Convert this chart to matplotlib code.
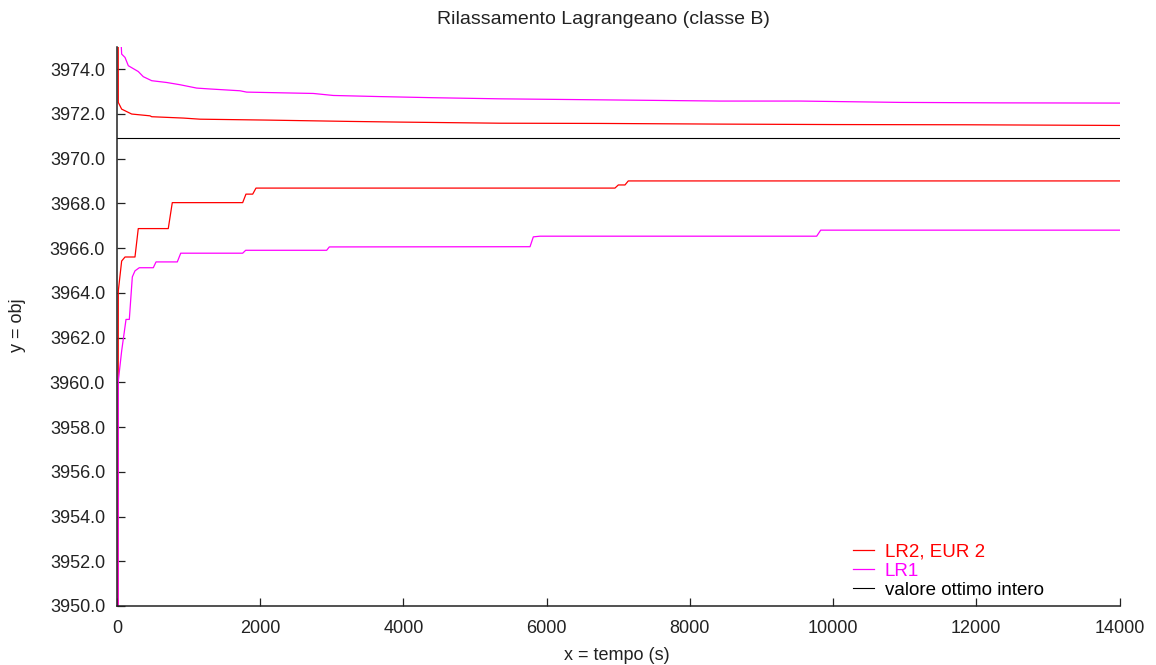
import matplotlib
matplotlib.use("Agg")
import matplotlib.pyplot as plt
from matplotlib.ticker import FormatStrFormatter, MultipleLocator

plt.rcParams['font.family'] = ['Liberation Sans', 'DejaVu Sans']

# LR2, EUR 2: upper bound (decreasing) and lower bound (stepwise increasing)
red_up_t = [10, 18, 65, 205, 461, 485, 926, 1159, 2090, 3254, 3952, 5349,
            6745, 8421, 9999, 11870, 14000]
red_up_v = [3990.0, 3972.51, 3972.21, 3971.99, 3971.91, 3971.87, 3971.81,
            3971.76, 3971.72, 3971.66, 3971.63, 3971.58, 3971.57, 3971.54,
            3971.52, 3971.51, 3971.48]
red_lo_t = [5, 18, 65, 112, 251, 297, 716, 772, 1755, 1801, 1895, 1941,
            6954, 7001, 7094, 7140, 14000]
red_lo_v = [3900.0, 3964.08, 3965.42, 3965.60, 3965.60, 3966.87, 3966.87,
            3968.03, 3968.03, 3968.41, 3968.41, 3968.68, 3968.68, 3968.82,
            3968.82, 3969.00, 3969.00]

# LR1: upper and lower bounds
mag_up_t = [45, 65, 112, 158, 297, 367, 485, 694, 880, 1113, 1299, 1718,
            1811, 2741, 3021, 3673, 4413, 5349, 6280, 7206, 8421, 9542,
            10938, 12331, 14000]
mag_up_v = [3976.0, 3974.67, 3974.52, 3974.15, 3973.89, 3973.66, 3973.48,
            3973.40, 3973.30, 3973.15, 3973.11, 3973.03, 3972.97, 3972.91,
            3972.82, 3972.77, 3972.72, 3972.67, 3972.64, 3972.61, 3972.57,
            3972.57, 3972.51, 3972.49, 3972.48]
mag_lo_t = [5, 18, 65, 126, 172, 214, 251, 311, 507, 545, 842, 890, 1755,
            1797, 2928, 2965, 5768, 5814, 5907, 9771, 9827, 14000]
mag_lo_v = [3900.0, 3960.05, 3961.40, 3962.81, 3962.81, 3964.71, 3964.98,
            3965.12, 3965.12, 3965.38, 3965.38, 3965.77, 3965.77, 3965.90,
            3965.90, 3966.05, 3966.06, 3966.50, 3966.53, 3966.53, 3966.80,
            3966.80]

# optimal integer value
opt_t = [0, 14000]
opt_v = [3970.9, 3970.9]

labels = ["LR2, EUR 2", "LR1", "valore ottimo intero"]
colors = ["#ff0000", "#ff00ff", "#000000"]

fig = plt.figure(figsize=(11.56, 6.65), dpi=100)
W, H = 1156, 665
ax = fig.add_axes([117 / W, 59 / H, (1119.5 - 117) / W, (606 - 46.7) / H])

lw = 0.9
ax.plot(red_up_t, red_up_v, color=colors[0], lw=lw, label=labels[0])
ax.plot(red_lo_t, red_lo_v, color=colors[0], lw=lw)
ax.plot(mag_up_t, mag_up_v, color=colors[1], lw=lw, label=labels[1])
ax.plot(mag_lo_t, mag_lo_v, color=colors[1], lw=lw)
ax.plot(opt_t, opt_v, color=colors[2], lw=0.8, label=labels[2])

ax.set_xlim(0, 14000)
ax.set_ylim(3950, 3975)
ax.xaxis.set_major_locator(MultipleLocator(2000))
ax.yaxis.set_major_locator(MultipleLocator(2))
ax.yaxis.set_major_formatter(FormatStrFormatter('%.1f'))

for s in ['top', 'right']:
    ax.spines[s].set_visible(False)
for s in ['left', 'bottom']:
    ax.spines[s].set_linewidth(1.1)
    ax.spines[s].set_color('#222222')

ax.tick_params(axis='both', direction='in', length=6, width=0.9,
               labelsize=13, colors='#222222', labelcolor='#222222')
ax.tick_params(axis='y', pad=8.5)
ax.tick_params(axis='x', pad=10)

fig.text(603 / W, 1 - 20 / H, "Rilassamento Lagrangeano (classe B)",
         ha='center', va='center', fontsize=14, color='#222222')
fig.text(617 / W, 1 - 655 / H, "x = tempo (s)", ha='center', va='center',
         fontsize=13, color='#222222')
fig.text(18 / W, 1 - 325 / H, "y = obj", ha='center', va='center',
         rotation=90, fontsize=13, color='#222222')

leg = ax.legend(loc='lower left', bbox_to_anchor=(853 / W, 1 - 599 / H),
                bbox_transform=fig.transFigure, frameon=False,
                fontsize=13.5, handlelength=1.1, handletextpad=0.6,
                labelspacing=0.12, borderpad=0, borderaxespad=0,
                labelcolor='linecolor')

fig.savefig("out.png", dpi=100)
